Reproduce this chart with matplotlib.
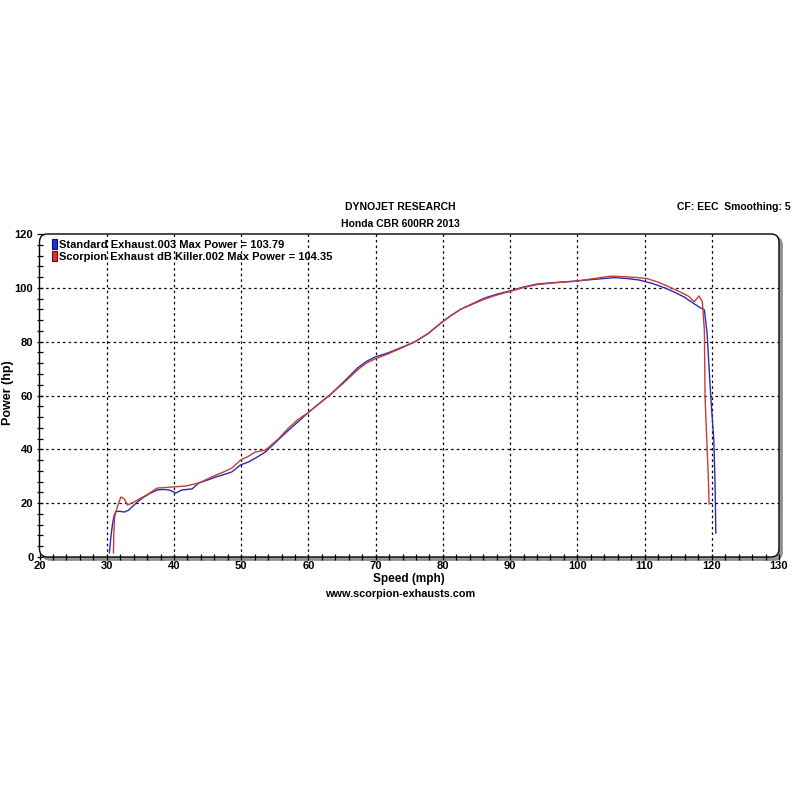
import matplotlib
matplotlib.use("Agg")
import matplotlib.pyplot as plt
from matplotlib.patches import FancyBboxPatch, Patch
from matplotlib.transforms import offset_copy
from matplotlib.ticker import MultipleLocator

# ---- data ----
speed_std = [30.4, 30.6, 30.85, 31.1, 31.4, 31.9, 32.6, 33.2, 33.8, 34.5, 35.3, 36.4, 37.5, 38.4,
             39.3, 40.3, 41.2, 42.7, 43.7, 45.0, 46.2, 47.4, 48.6, 49.9, 51.1, 52.3, 53.6, 55.5,
             57.0, 58.4, 59.9, 61.5, 63.2, 65.3, 67.3, 68.6, 69.9, 71.8, 73.8, 75.8, 77.8, 79.7,
             81.2, 82.7, 84.5, 86.2, 88.0, 89.9, 92.0, 94.0, 96.8, 99.6, 102.3, 105.5, 107.2,
             109.2, 111.2, 113.1, 114.5, 115.9, 117.0, 118.1, 118.9, 119.3, 119.7, 120.0, 120.3,
             120.5, 120.6]
power_std = [1.5, 7.0, 12.0, 15.5, 16.9, 17.0, 16.7, 17.3, 18.7, 20.3, 21.9, 23.6, 24.9, 25.1,
             24.9, 23.8, 24.9, 25.3, 27.5, 28.6, 29.7, 30.6, 31.6, 34.2, 35.3, 37.0, 39.0, 43.5,
             47.0, 50.1, 53.5, 56.8, 60.2, 65.2, 70.2, 72.6, 74.3, 75.8, 77.8, 79.9, 83.0, 86.9,
             89.7, 92.1, 94.2, 96.2, 97.6, 98.8, 100.3, 101.4, 102.0, 102.5, 103.1, 103.79, 103.5,
             102.9, 101.6, 99.9, 98.3, 96.6, 94.7, 92.9, 91.8, 83.2, 65.7, 54.0, 43.5,
             26.0, 8.9]

speed_sc = [31.0, 31.05, 31.15, 31.3, 31.7, 32.1, 32.6, 33.1, 34.0, 35.9, 37.5, 38.6, 39.7, 40.8,
            41.8, 43.7, 45.0, 46.2, 47.4, 48.6, 49.9, 51.0, 52.1, 53.6, 55.5, 57.0, 58.4, 59.9,
            61.5, 63.2, 65.3, 67.3, 68.6, 69.9, 71.8, 73.8, 75.8, 77.8, 79.7, 81.2, 82.7, 84.5,
            86.2, 88.0, 89.9, 92.0, 94.0, 96.8, 99.6, 102.3, 105.0, 107.2, 109.0, 110.4, 111.8,
            113.1, 114.4, 115.6, 116.6, 117.4, 118.1, 118.6, 118.9, 119.0, 119.5, 119.6]
power_sc = [1.5, 8.0, 14.0, 16.4, 19.5, 22.3, 21.6, 19.3, 20.4, 23.0, 25.6, 25.8, 26.0, 26.2,
            26.4, 27.5, 29.0, 30.4, 31.6, 33.0, 36.0, 37.3, 39.0, 39.7, 43.8, 47.8, 51.0, 53.5,
            56.8, 60.2, 64.8, 69.5, 72.0, 73.6, 75.4, 77.6, 79.9, 83.0, 86.9, 89.7, 92.1, 94.0,
            95.8, 97.3, 98.6, 100.1, 101.2, 101.9, 102.4, 103.4, 104.35, 104.1, 103.8, 103.4, 102.3,
            101.0, 99.5, 98.1, 96.8, 94.8, 97.0, 94.8, 84.3, 59.4, 28.6, 19.7]

legend_labels = ["Standard Exhaust.003 Max Power = 103.79",
                 "Scorpion Exhaust dB Killer.002 Max Power = 104.35"]
title_lines = ["DYNOJET RESEARCH", "Honda CBR 600RR 2013"]
grid_x = [30, 40, 50, 60, 70, 80, 90, 100, 110, 120]
grid_y = [20, 40, 60, 80, 100]

BLUE = "#2b2bb4"
RED = "#c83c3c"
FONT = ['Liberation Sans', 'DejaVu Sans']

plt.rcParams['font.family'] = FONT
plt.rcParams['font.weight'] = 'bold'
fig = plt.figure(figsize=(8, 8), dpi=100)
fig.patch.set_facecolor("white")

W, H = 800, 800
L, R, T, B = 39.5, 779, 234, 557
ax = fig.add_axes([L / W, 1 - B / H, (R - L) / W, (B - T) / H])
ax.set_xlim(20, 130)
ax.set_ylim(0, 120)
ax.patch.set_visible(False)
for s in ax.spines.values():
    s.set_visible(False)

aspect = (R - L) / (B - T)
rad = 8 / (R - L)
shadow_tr = offset_copy(ax.transAxes, fig=fig, x=3.0, y=-3.0, units='dots')
shadow = FancyBboxPatch((0, 0), 1, 1, boxstyle=f"round,pad=0,rounding_size={rad}",
                        mutation_aspect=aspect, transform=shadow_tr, facecolor="#9a9a9a",
                        edgecolor="#8a8a8a", lw=1.2, clip_on=False, zorder=0)
frame = FancyBboxPatch((0, 0), 1, 1, boxstyle=f"round,pad=0,rounding_size={rad}",
                       mutation_aspect=aspect, transform=ax.transAxes, facecolor="white",
                       edgecolor="black", lw=1.0, clip_on=False, zorder=0.5)
ax.add_patch(shadow)
ax.add_patch(frame)

ax.xaxis.set_major_locator(MultipleLocator(10))
ax.xaxis.set_minor_locator(MultipleLocator(2))
ax.yaxis.set_major_locator(MultipleLocator(20))
ax.yaxis.set_minor_locator(MultipleLocator(4))
ax.tick_params(which='both', direction='inout', length=5, width=0.9, color='black',
               labelsize=8)
ax.tick_params(axis='x', which='both', pad=0.5)
ax.tick_params(axis='y', which='both', pad=2)

grid_style = dict(color='black', linestyles=(0, (2, 2.5)), linewidth=0.9, zorder=1)
ax.vlines(grid_x, 0, 120, **grid_style)
ax.hlines(grid_y, 20, 130, **grid_style)

ax.plot(speed_std, power_std, color=BLUE, lw=1.0, zorder=3)
ax.plot(speed_sc, power_sc, color=RED, lw=1.0, zorder=3)

handles = [Patch(facecolor="#2030e0", edgecolor="#101060", lw=0.8),
           Patch(facecolor="#e03030", edgecolor="#601010", lw=0.8)]
leg = ax.legend(handles, legend_labels, loc='upper left', bbox_to_anchor=(0.0165, 0.983),
                frameon=False, handlelength=0.5, handleheight=0.95, handletextpad=0.15,
                labelspacing=0.12, borderaxespad=0, borderpad=0,
                prop={'weight': 'bold', 'size': 8})

ax.set_xlabel("Speed (mph)", fontsize=8.5, fontweight='bold', labelpad=1)

fig.text(8 / W, 1 - 393 / H, "Power (hp)", ha='center', va='center', rotation=90,
         fontsize=9, fontweight='bold')
fig.text(400 / W, 1 - 207 / H, title_lines[0], ha='center', va='center', fontsize=7.5,
         fontweight='bold')
fig.text(400 / W, 1 - 224 / H, title_lines[1], ha='center', va='center', fontsize=7.5,
         fontweight='bold')
fig.text(791 / W, 1 - 207 / H, "CF: EEC  Smoothing: 5", ha='right', va='center', fontsize=7.5,
         fontweight='bold')
fig.text(400 / W, 1 - 594 / H, "www.scorpion-exhausts.com", ha='center', va='center',
         fontsize=7.8, fontweight='bold')

fig.savefig("out.png", dpi=100, facecolor="white")
